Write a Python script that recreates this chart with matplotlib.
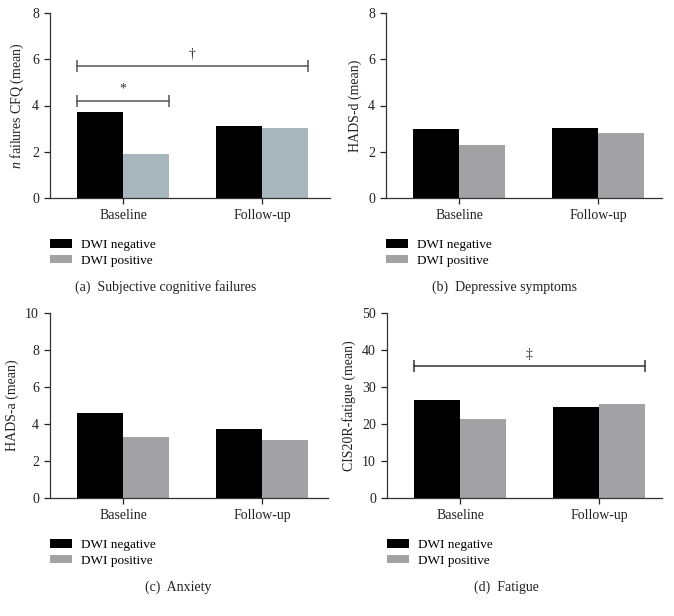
import matplotlib
matplotlib.use("Agg")
from matplotlib import pyplot as plt
from matplotlib.patches import Patch

plt.rcParams['font.family'] = ['Liberation Serif', 'DejaVu Serif']
plt.rcParams['mathtext.fontset'] = 'custom'
plt.rcParams['mathtext.it'] = 'Liberation Serif:italic'
plt.rcParams['mathtext.rm'] = 'Liberation Serif'

W, H = 674, 616

groups = ["Baseline", "Follow-up"]
series = ["DWI negative", "DWI positive"]

cfq_neg = [3.71, 3.11]
cfq_pos = [1.92, 3.04]
hads_d_neg = [2.98, 3.02]
hads_d_pos = [2.30, 2.80]
hads_a_neg = [4.62, 3.74]
hads_a_pos = [3.30, 3.12]
cis_neg = [26.4, 24.6]
cis_pos = [21.4, 25.5]

# (label, bracket height, from x, to x)
cfq_marks = [("*", 4.18, -0.33, 0.33), ("\u2020", 5.70, -0.33, 1.33)]
cis_marks = [("\u2021", 35.6, -0.33, 1.33)]

panels = [
    dict(box=(50, 330, 13, 198), neg=cfq_neg, pos=cfq_pos, ymax=8, step=2,
         ylabel="$n$ failures CFQ (mean)", caption="(a)  Subjective cognitive failures",
         poscolor="#a8b6be", marks=cfq_marks, bcolor="#555555", cap_x=166),
    dict(box=(386, 662, 13, 198), neg=hads_d_neg, pos=hads_d_pos, ymax=8, step=2,
         ylabel="HADS-d (mean)", caption="(b)  Depressive symptoms",
         poscolor="#a2a2a4", marks=[], bcolor="#333333", cap_x=505),
    dict(box=(50, 328, 313, 498), neg=hads_a_neg, pos=hads_a_pos, ymax=10, step=2,
         ylabel="HADS-a (mean)", caption="(c)  Anxiety",
         poscolor="#a2a2a4", marks=[], bcolor="#333333", cap_x=178),
    dict(box=(387, 662, 313, 498), neg=cis_neg, pos=cis_pos, ymax=50, step=10,
         ylabel="CIS20R-fatigue (mean)", caption="(d)  Fatigue",
         poscolor="#a2a2a4", marks=cis_marks, bcolor="#333333", cap_x=506),
]

fig = plt.figure(figsize=(W / 100, H / 100), dpi=100)
width = 0.33
x = [0, 1]

for p in panels:
    l, r, t, b = p["box"]
    ax = fig.add_axes([l / W, 1 - b / H, (r - l) / W, (b - t) / H])
    ax.bar([i - width / 2 for i in x], p["neg"], width, color="black")
    ax.bar([i + width / 2 for i in x], p["pos"], width, color=p["poscolor"])

    ax.set_xlim(-0.525, -0.525 + (r - l) / 139)
    ax.set_ylim(0, p["ymax"])
    ax.set_yticks(range(0, p["ymax"] + 1, p["step"]))
    ax.set_xticks(x)
    ax.set_xticklabels(groups)
    ax.set_ylabel(p["ylabel"], fontsize=10, color="#222222", labelpad=4)
    ax.tick_params(labelsize=10, colors="#222222", length=4, width=0.9, pad=4)
    for side in ["top", "right"]:
        ax.spines[side].set_visible(False)
    for side in ["left", "bottom"]:
        ax.spines[side].set_color("#333333")
        ax.spines[side].set_linewidth(0.9)

    for sym, yv, x0, x1 in p["marks"]:
        ax.plot([x0, x1], [yv, yv], color=p["bcolor"], lw=1.1, marker="|",
                markersize=9, markeredgewidth=1.1, clip_on=False)
        ax.annotate(sym, ((x0 + x1) / 2, yv), xytext=(0, 4), textcoords="offset points",
                    ha="center", va="bottom", fontsize=10, color="#333333")

    handles = [Patch(facecolor="black"), Patch(facecolor="#a2a2a4")]
    ax.legend(handles, series, loc="upper left",
              bbox_to_anchor=(l / W, 1 - (b + 41) / H), bbox_transform=fig.transFigure,
              frameon=False, fontsize=9.5, borderpad=0, borderaxespad=0,
              handlelength=1.7, handleheight=0.6, handletextpad=0.65,
              labelspacing=0.3)

    fig.text(p["cap_x"] / W, 1 - (b + 89) / H, p["caption"], ha="center", va="center",
             fontsize=10, color="#222222")

plt.savefig("out.png", dpi=100)
